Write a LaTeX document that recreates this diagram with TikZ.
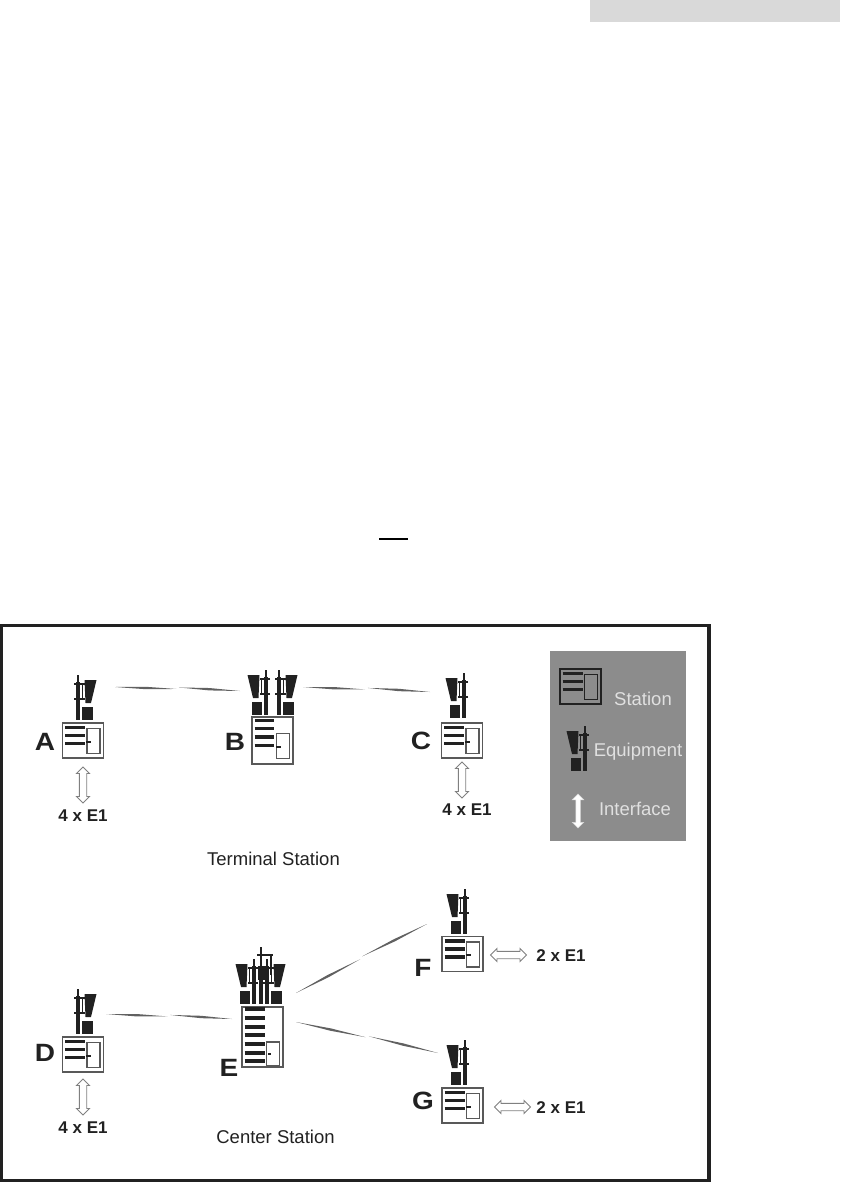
\documentclass[tikz,border=0pt]{standalone}
\usepackage{fontspec}
\setmainfont{Liberation Sans}
\newfontfamily\heavyfont[FakeStretch=1.12]{Liberation Sans Bold}
\usetikzlibrary{shapes.arrows,calc}
\definecolor{ink}{gray}{0.13}
\definecolor{outl}{gray}{0.35}
\newcommand{\txtfont}{\fontsize{18.5}{20}\selectfont}
\newcommand{\capfont}{\fontsize{17}{19}\selectfont\bfseries}
\newcommand{\letfont}{\fontsize{25}{27}\selectfont\heavyfont}
\tikzset{
  x=1pt,y=-1pt,
  stnbox/.style={draw=outl,line width=1.3pt,fill=white,inner sep=0pt,minimum width=41pt},
  stnlegend/.style={stnbox,fill=none,draw=ink},
  bar/.style={ink,line width=3.6pt},
  door/.style={draw=outl,line width=1.1pt,fill=white},
  caplabel/.style={inner sep=0pt,font=\capfont,text=ink},
  letter/.style={inner sep=0pt,font=\letfont,text=ink},
  titlelabel/.style={inner sep=0pt,font=\txtfont,text=ink},
  legendlabel/.style={inner sep=0pt,font=\txtfont,text=white!88!black},
  hollow/.style={shape=double arrow,draw=gray,fill=white,line width=0.9pt,inner sep=0pt,
    minimum height=36pt,double arrow head extend=2.8pt},
  whitearrow/.style={shape=double arrow,draw=white!85!black,fill=white,line width=0.5pt,inner sep=0pt,
    minimum height=34pt,double arrow head extend=3.5pt},
  linkfill/.style={fill=black!62,draw=none},
  pics/equip/.style={code={
    \draw[ink,line width=3.4pt] (0,-38) -- (0,0);
    \draw[ink,line width=1.7pt] (0,-45) -- (0,-38);
    \draw[ink,line width=1.3pt] (4.5,-36) -- (4.5,-21);
    \draw[ink,line width=1.9pt] (-4,-36) -- (6.5,-36);
    \draw[ink,line width=1.9pt] (-4,-21) -- (6.5,-21);
    \fill[ink] (6.5,-40) -- (18.5,-40) -- (13,-17) -- (7.5,-17) -- cycle;
    \fill[ink] (4,-13) rectangle (14.5,0);
  }},
  pics/smallstn/.style={code={
    \draw[bar] (-18,-13) -- (2,-13);
    \draw[bar] (-18,-5) -- (2,-5);
    \draw[bar] (-18,3) -- (2,3);
    \draw[door] (4,-12) rectangle (17,13);
    \fill[ink] (3,0) rectangle (8,2);
  }},
  pics/medstn/.style={code={
    \draw[bar] (-18,-20) -- (1,-20);
    \draw[bar] (-18,-12) -- (1,-12);
    \draw[bar] (-18,-3.5) -- (1,-3.5);
    \draw[bar] (-18,5) -- (1,5);
    \draw[door] (4,-7) rectangle (17,18);
    \fill[ink] (3,5) rectangle (8,7);
  }},
  pics/bigstn/.style={code={
    \draw[bar] (-18,-28) -- (2,-28);
    \draw[bar] (-18,-19) -- (2,-19);
    \draw[bar] (-18,-10) -- (2,-10);
    \draw[bar] (-18,-2) -- (2,-2);
    \draw[bar] (-18,7) -- (2,7);
    \draw[bar] (-18,16) -- (2,16);
    \draw[bar] (-18,24) -- (2,24);
    \draw[door] (4,5) rectangle (17,29);
    \fill[ink] (5,16) rectangle (8,18);
  }},
}
\newcommand{\radiolink}[2]{%
  \coordinate (m1) at ($(#1)!0.49!(#2)$);
  \coordinate (m2) at ($(#1)!0.51!(#2)!1.6pt!90:(#2)$);
  \fill[linkfill] (#1) -- ($(#1)!0.5!(m1)!1.2pt!90:(m1)$) -- (m1) -- ($(#1)!0.5!(m1)!-1.2pt!90:(m1)$) -- cycle;
  \fill[linkfill] (#2) -- ($(#2)!0.5!(m2)!1.2pt!90:(m2)$) -- (m2) -- ($(#2)!0.5!(m2)!-1.2pt!90:(m2)$) -- cycle;
}
\newcommand{\shaft}{\rule{0pt}{6.5pt}}
\begin{document}
\begin{tikzpicture}
\useasboundingbox (0,0) rectangle (840,1182);
% page fragments
\fill[gray!30] (590,0) rectangle (840,22);
\draw[black,line width=2pt] (379,539) -- (408,539);
% frame
\draw[ink,line width=3.2pt] (1.5,625.5) rectangle (709,1180.5);
% stations
\node[stnbox,minimum height=35pt] (stA) at (83,740.5) {};
\pic at (stA.center) {smallstn};
\node[stnbox,minimum height=47pt] (stB) at (272.5,740.5) {};
\pic at (stB.center) {medstn};
\node[stnbox,minimum height=35pt] (stC) at (462,740.5) {};
\pic at (stC.center) {smallstn};
\node[stnbox,minimum height=35pt] (stD) at (83,1054.5) {};
\pic at (stD.center) {smallstn};
\node[stnbox,minimum height=60pt] (stE) at (262.5,1037) {};
\pic at (stE.center) {bigstn};
\node[stnbox,minimum height=35pt] (stF) at (462.5,954) {};
\pic at (stF.center) {smallstn};
\node[stnbox,minimum height=35pt] (stG) at (462.5,1105.5) {};
\pic at (stG.center) {smallstn};
% equipment
\pic at (78,720) {equip};
\pic[xscale=-1] at (266,715) {equip};
\pic at (279,715) {equip};
\pic[xscale=-1] at (464,718) {equip};
\pic at (78,1034) {equip};
\pic[xscale=-1] at (254,1004) {equip};
\pic at (267,1004) {equip};
% centre mast of station E
\draw[ink,line width=3.2pt] (261,975) -- (261,1004);
\draw[ink,line width=1.7pt] (261,947) -- (261,975);
\draw[ink,line width=1.6pt] (257,955) -- (273,955);
\draw[ink,line width=1.6pt] (271,955) -- (271,975);
\fill[ink] (258,966) rectangle (265,980);
\pic[xscale=-1] at (465,934) {equip};
\pic[xscale=-1] at (465,1085) {equip};
% radio links
\coordinate (a1) at (115,687);
\coordinate (b1) at (240,691);
\coordinate (b2) at (303,687);
\coordinate (c1) at (430,692);
\coordinate (d1) at (106,1014);
\coordinate (e0) at (232,1019);
\coordinate (e1) at (296,993);
\coordinate (f1) at (427,924);
\coordinate (e2) at (296,1022);
\coordinate (g1) at (438,1053);
\radiolink{a1}{b1}
\radiolink{b2}{c1}
\radiolink{d1}{e0}
\radiolink{e1}{f1}
\radiolink{e2}{g1}
% letters
\node[letter] (la) at (45,742) {A};
\node[letter] (lb) at (235,742) {B};
\node[letter] (lc) at (421,741) {C};
\node[letter] (ld) at (45,1053) {D};
\node[letter] (le) at (229,1068) {E};
\node[letter] (lf) at (423,968) {F};
\node[letter] (lg) at (423,1101) {G};
% interfaces
\node[hollow,rotate=90] (ia) at (83,785) {\shaft};
\node[hollow,rotate=90] (ic) at (462,780) {\shaft};
\node[hollow,rotate=90] (id) at (83,1097) {\shaft};
\node[hollow] (if) at (508.5,955) {\shaft};
\node[hollow] (ig) at (512.5,1107) {\shaft};
\node[caplabel] (ca) at (83,816) {4 x E1};
\node[caplabel] (cc) at (467,810) {4 x E1};
\node[caplabel] (cd) at (83,1128) {4 x E1};
\node[caplabel] (cf) at (561,956) {2 x E1};
\node[caplabel] (cg) at (561,1108) {2 x E1};
\node[titlelabel] (tt) at (273.5,859) {Terminal Station};
\node[titlelabel] (tc) at (275.5,1137) {Center Station};
% legend
\fill[black!45] (550,651) rectangle (686,841);
\node[stnlegend,minimum height=35pt] (lgs) at (580.5,686.5) {};
\pic at (lgs.center) {smallstn};
\fill[black!45] (584.5,674.5) rectangle (597.5,699.5);
\draw[ink,line width=1.1pt] (584.5,674.5) rectangle (597.5,699.5);
\pic[xscale=-1] at (585,771) {equip};
\node[whitearrow,rotate=90] (lgi) at (578,811) {\rule{0pt}{4pt}};
\node[legendlabel] (ls) at (643,699) {Station};
\node[legendlabel] (le2) at (638,752) {Equipment};
\node[legendlabel] (li) at (635,809) {Interface};
\end{tikzpicture}
\end{document}
